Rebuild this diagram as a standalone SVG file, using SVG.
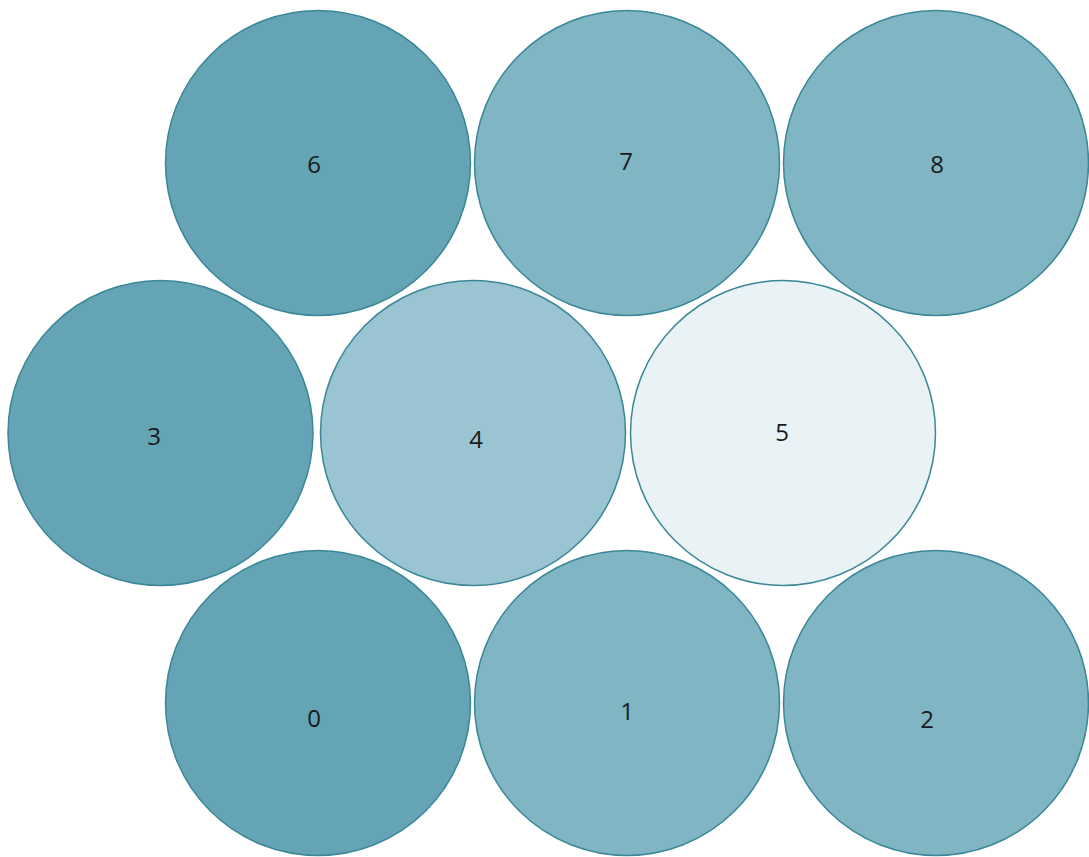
<svg xmlns="http://www.w3.org/2000/svg" width="1089" height="857" viewBox="0 0 1089 857">
<style>
circle{stroke:#3a8797;stroke-width:1.5}
.d{fill:#64a4b5}.m{fill:#80b5c4}.l{fill:#9ac4d1}.w{fill:#e9f2f5}
text{font-family:"Open Sans","Liberation Sans",sans-serif;font-size:24px;fill:#1a1a1a;text-anchor:middle;dominant-baseline:central}
</style>
<rect width="1089" height="857" fill="#ffffff"/>
<g id="n6"><circle class="d" cx="318" cy="163" r="152.5"/><text x="314" y="163">6</text></g>
<g id="n7"><circle class="m" cx="627" cy="163" r="152.5"/><text x="626" y="160">7</text></g>
<g id="n8"><circle class="m" cx="936" cy="163" r="152.5"/><text x="937" y="163">8</text></g>
<g id="n3"><circle class="d" cx="160.5" cy="433" r="152.5"/><text x="154" y="435">3</text></g>
<g id="n4"><circle class="l" cx="473" cy="433" r="152.5"/><text x="476" y="438">4</text></g>
<g id="n5"><circle class="w" cx="783" cy="433" r="152.5"/><text x="782" y="431">5</text></g>
<g id="n0"><circle class="d" cx="318" cy="703" r="152.5"/><text x="314" y="717">0</text></g>
<g id="n1"><circle class="m" cx="627" cy="703" r="152.5"/><text x="627" y="710">1</text></g>
<g id="n2"><circle class="m" cx="936" cy="703" r="152.5"/><text x="927" y="718">2</text></g>
<g id="connectors"></g>
</svg>
